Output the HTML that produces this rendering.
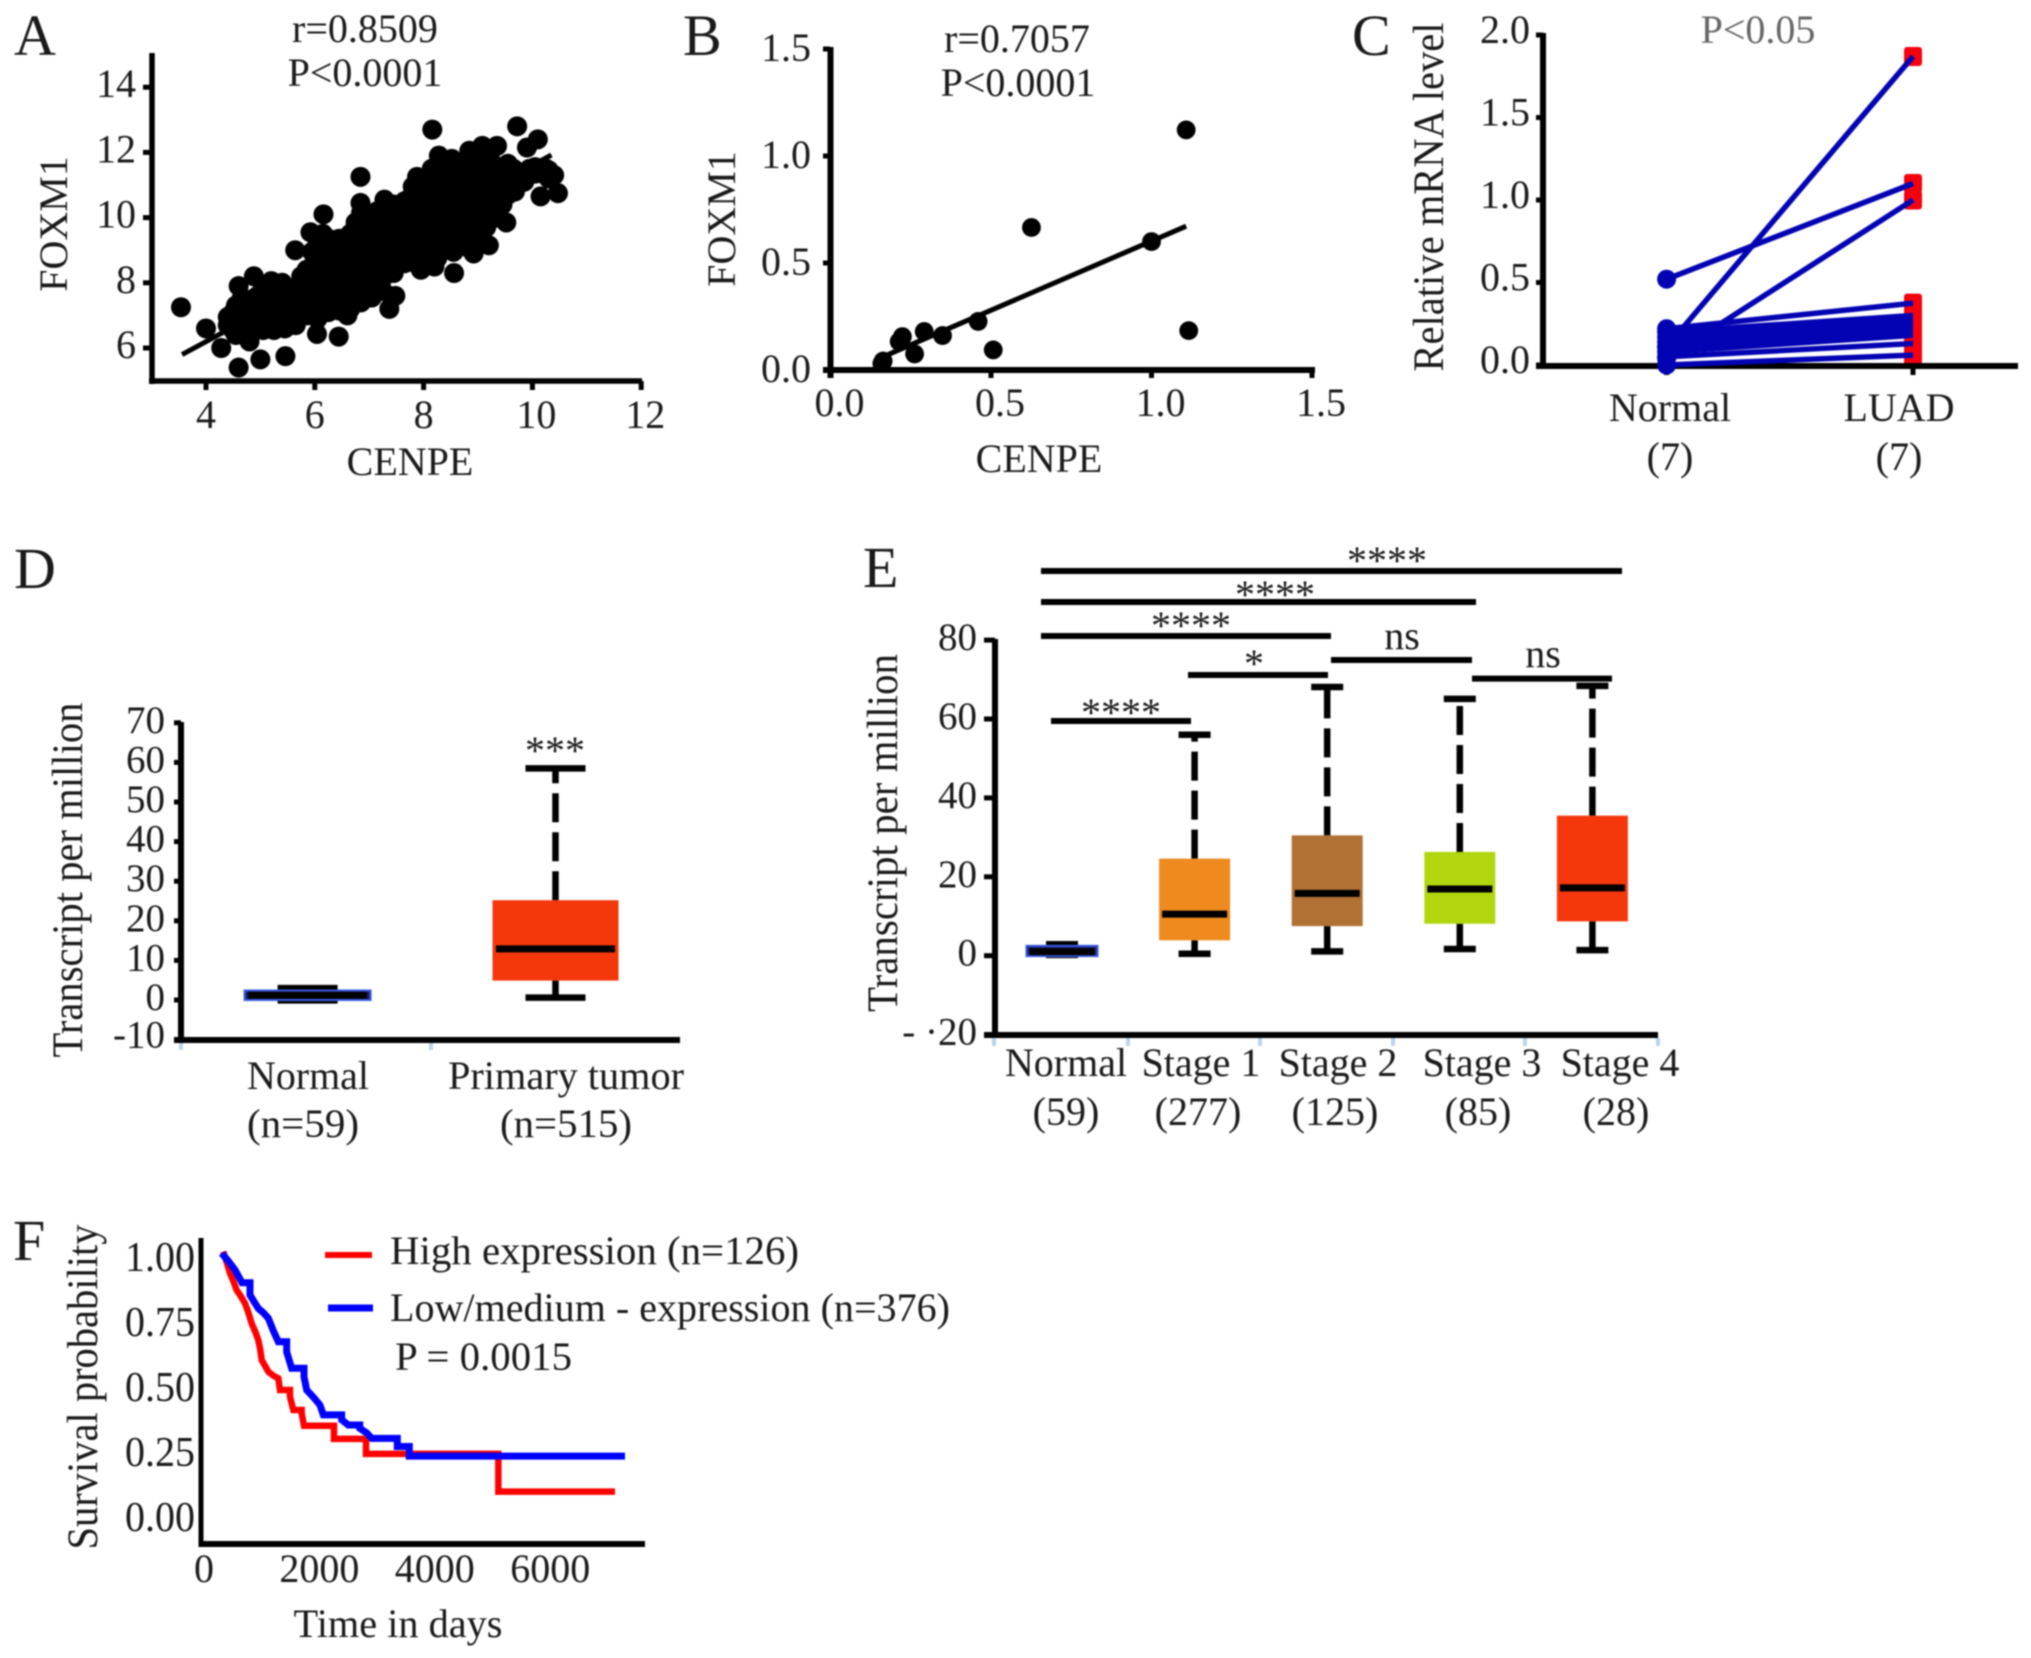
<!DOCTYPE html>
<html lang="en">
<head>
<meta charset="utf-8">
<title>FOXM1 and CENPE expression figure</title>
<style>
html,body{margin:0;padding:0;background:#fff;width:2031px;height:1658px;overflow:hidden}
svg{display:block;filter:blur(.8px)}
text{font-family:"Liberation Serif",serif;fill:#1a1a1a;font-size:40px}
.letter{font-size:58px}
.title{font-size:43px}
</style>
</head>
<body>
<svg id="figure" xmlns="http://www.w3.org/2000/svg" width="2031" height="1658" viewBox="0 0 2031 1658">
<rect width="2031" height="1658" fill="#fff"/>

<g id="panelA">
<text class="letter" x="14" y="55">A</text>
<text x="365" y="42" text-anchor="middle">r=0.8509</text>
<text x="365" y="86" text-anchor="middle">P&lt;0.0001</text>
<text x="410" y="475" text-anchor="middle">CENPE</text>
<text transform="translate(67 224) rotate(-90)" text-anchor="middle">FOXM1</text>
</g>

<g id="panelB">
<text class="letter" x="683" y="55">B</text>
<text x="1017" y="52" text-anchor="middle">r=0.7057</text>
<text x="1018" y="96" text-anchor="middle">P&lt;0.0001</text>
<text x="1039" y="472" text-anchor="middle">CENPE</text>
<text transform="translate(735 219) rotate(-90)" text-anchor="middle">FOXM1</text>
</g>

<g id="panelC">
<text class="letter" x="1352" y="55">C</text>
<text x="1758" y="43" text-anchor="middle" style="fill:#666">P&lt;0.05</text>
<text class="title" transform="translate(1443 197) rotate(-90)" text-anchor="middle" textLength="349" lengthAdjust="spacingAndGlyphs">Relative mRNA level</text>
<text x="1670" y="421" text-anchor="middle">Normal</text>
<text x="1670" y="470" text-anchor="middle">(7)</text>
<text x="1899" y="421" text-anchor="middle">LUAD</text>
<text x="1899" y="470" text-anchor="middle">(7)</text>
</g>

<g id="panelD">
<text class="letter" x="14" y="588">D</text>
<text class="title" transform="translate(82 880) rotate(-90)" text-anchor="middle" textLength="355" lengthAdjust="spacingAndGlyphs">Transcript per million</text>
<text x="555" y="764" text-anchor="middle">***</text>
</g>

<g id="panelE">
<text class="letter" x="863" y="587">E</text>
<text class="title" transform="translate(897 833) rotate(-90)" text-anchor="middle" textLength="358" lengthAdjust="spacingAndGlyphs">Transcript per million</text>
</g>

<g id="panelF">
<text class="letter" x="13" y="1260">F</text>
<text class="title" transform="translate(97 1387) rotate(-90)" text-anchor="middle" textLength="325" lengthAdjust="spacingAndGlyphs">Survival probability</text>
<text x="398" y="1637" text-anchor="middle" textLength="209" lengthAdjust="spacingAndGlyphs">Time in days</text>
<line x1="325" x2="372" y1="1255" y2="1255" stroke="#f00" stroke-width="6"/>
<line x1="328" x2="373" y1="1308" y2="1308" stroke="#00f" stroke-width="7"/>
<text x="390" y="1264" textLength="409" lengthAdjust="spacingAndGlyphs">High expression (n=126)</text>
<text x="390" y="1321" textLength="560" lengthAdjust="spacingAndGlyphs">Low/medium - expression (n=376)</text>
<text x="395" y="1370" textLength="177" lengthAdjust="spacingAndGlyphs">P = 0.0015</text>
</g>
</svg>

<script>
/* ---------- Panel A data ---------- */
const tumorCenpe = [3.54,4.0,4.28,4.6,5.0,5.46,4.8,4.6,4.88,5.2,5.4,6.04,6.44,6.6,7.37,7.48,5.64,5.92,6.16,6.84,6.84,7.28,8.16,9.72,10.1,9.9,9.35,9.08,8.84,8.28,8.52,9.55,10.4,10.47,10.15,9.68,9.52,9.2,8.92,8.56,7.95,8.2,7.88,7.8,
4.4,4.4,4.55,4.55,4.55,4.75,4.75,4.75,4.95,4.95,4.95,5.15,5.15,5.15,5.15,5.35,5.35,5.35,5.35,5.55,5.55,5.55,5.75,5.75,5.75,
5.95,5.95,5.95,5.95,5.95,6.15,6.15,6.15,6.15,6.15,6.15,6.35,6.35,6.35,6.35,6.35,6.55,6.55,6.55,6.55,6.55,
6.75,6.75,6.75,6.75,6.75,6.75,6.95,6.95,6.95,6.95,6.95,6.95,7.15,7.15,7.15,7.15,7.15,7.15,7.35,7.35,7.35,7.35,7.35,7.35,
7.55,7.55,7.55,7.55,7.55,7.75,7.75,7.75,7.75,7.75,7.95,7.95,7.95,7.95,7.95,7.95,8.15,8.15,8.15,8.15,8.15,8.15,8.15,
8.35,8.35,8.35,8.35,8.35,8.35,8.55,8.55,8.55,8.55,8.55,8.55,8.75,8.75,8.75,8.75,8.75,8.75,8.95,8.95,8.95,8.95,8.95,8.95,
9.15,9.15,9.15,9.15,9.15,9.35,9.35,9.35,9.35,9.55,9.55,9.75,9.75,9.95,9.95,10.2,10.25,
4.5,4.5,4.65,4.65,4.65,4.85,4.85,4.85,5.05,5.05,5.05,5.05,5.25,5.25,5.25,5.25,5.25,5.45,5.45,5.45,5.45,5.45,5.65,5.65,5.65,5.65,5.85,5.85,5.85,5.85,
6.05,6.05,6.05,6.05,6.05,6.05,6.25,6.25,6.25,6.25,6.25,6.25,6.45,6.45,6.45,6.45,6.45,6.45,6.65,6.65,6.65,6.65,6.65,6.65,
6.85,6.85,6.85,6.85,6.85,6.85,6.85,7.05,7.05,7.05,7.05,7.05,7.05,7.05,7.25,7.25,7.25,7.25,7.25,7.25,7.25,
7.45,7.45,7.45,7.45,7.45,7.45,7.65,7.65,7.65,7.65,7.65,7.65,7.85,7.85,7.85,7.85,7.85,7.85,
8.05,8.05,8.05,8.05,8.05,8.05,8.05,8.25,8.25,8.25,8.25,8.25,8.25,8.25,8.25,8.45,8.45,8.45,8.45,8.45,8.45,8.45,
8.65,8.65,8.65,8.65,8.65,8.65,8.65,8.85,8.85,8.85,8.85,8.85,8.85,8.85,9.05,9.05,9.05,9.05,9.05,9.05,
9.25,9.25,9.25,9.25,9.25,9.45,9.45,9.45,9.65,9.65,9.65,9.85,9.85,10.05,10.05,10.3,10.3];
const tumorFoxm1 = [7.25,6.6,6.0,5.4,5.65,5.75,6.2,7.9,8.2,8.05,8.0,6.43,6.35,7.0,7.2,7.6,9.0,9.55,10.1,11.25,10.45,10.55,12.7,12.8,12.4,12.15,12.2,12.2,12.05,11.9,11.8,11.65,11.3,10.75,10.65,10.8,9.85,9.15,8.9,8.3,8.4,8.5,11.25,10.95,
6.7,6.95,6.4,6.9,7.3,6.5,6.95,7.35,6.8,7.2,7.6,6.8,7.2,7.55,7.8,6.8,7.15,7.5,7.75,6.9,7.25,7.6,7.3,7.7,8.2,
7.15,7.6,8.05,8.5,8.95,7.3,7.75,8.2,8.65,9.1,9.5,7.35,7.8,8.25,8.7,9.1,7.4,7.85,8.3,8.75,9.25,
7.6,8.05,8.5,8.95,9.4,9.85,7.7,8.15,8.6,9.05,9.5,9.95,7.9,8.35,8.8,9.25,9.7,10.2,8.3,8.7,9.15,9.6,10.05,10.2,
8.6,9.05,9.5,9.95,10.3,8.7,9.15,9.6,10.05,10.6,8.75,9.2,9.65,10.1,10.55,11,8.9,9.35,9.8,10.25,10.7,11.15,11.5,
9.2,9.65,10.1,10.55,11,11.5,8.95,9.4,9.85,10.3,10.75,11.3,9.2,9.65,10.1,10.55,11,11.7,9.3,9.75,10.2,10.65,11.1,11.8,
9.7,10.15,10.6,11.05,11.7,10.2,10.65,11.1,11.35,10.7,11.2,11.2,11.4,11.35,11.5,11.35,11.5,
6.55,7.1,6.65,7.15,7.5,6.7,7.15,7.5,6.55,7.0,7.4,7.85,6.55,7.0,7.35,7.7,8.0,6.6,7.0,7.35,7.65,7.9,6.7,7.1,7.45,7.8,7.0,7.5,7.95,8.4,
6.9,7.4,7.85,8.3,8.75,9.2,7.1,7.55,8.0,8.45,8.9,9.35,7.15,7.6,8.05,8.5,8.95,9.35,7.2,7.65,8.1,8.55,9.0,9.5,
7.4,7.85,8.3,8.75,9.2,9.65,10.15,7.55,7.95,8.4,8.85,9.3,9.75,10.1,7.75,8.15,8.6,9.05,9.5,9.95,10.3,
8.3,8.9,9.35,9.8,10.25,10.4,8.6,8.85,9.3,9.75,10.2,10.5,8.6,9.0,9.4,9.85,10.3,10.8,
8.65,9.05,9.5,9.95,10.4,10.85,11.2,8.75,9.15,9.6,10.05,10.5,10.95,11.4,11.6,9.05,9.45,9.9,10.35,10.8,11.25,11.6,
9.15,9.6,10.05,10.5,10.95,11.4,11.5,9.05,9.45,9.9,10.35,10.8,11.25,11.75,9.5,9.95,10.4,10.85,11.3,11.85,
9.95,10.4,10.85,11.3,11.7,10.4,10.9,11.3,10.85,11.2,11.5,11.1,11.35,11.35,11.55,11.2,11.45];
const fitACenpe = [3.56,10.35];
const fitAFoxm1 = [5.8,11.92];
const ticksAX = [4,6,8,10,12];
const ticksAY = [6,8,10,12,14];

/* ---------- Panel B data ---------- */
const tissueCenpe = [1.108,0.626,1.0,1.116,0.507,0.46,0.349,0.292,0.224,0.214,0.262,0.164,0.16];
const tissueFoxm1 = [1.122,0.666,0.6,0.184,0.094,0.227,0.161,0.18,0.156,0.133,0.075,0.042,0.03];
const fitBCenpe = [0.153,1.108];
const fitBFoxm1 = [0.055,0.672];
const ticksB = ['0.0','0.5','1.0','1.5'];

/* ---------- Panel C data ---------- */
const pairedNormal = [0.11,0.52,0.04,0.22,0.2,0.17,0.14,0.11,0.08,0.05,0.0];
const pairedLuad = [1.87,1.1,1.0,0.375,0.3,0.27,0.24,0.21,0.18,0.13,0.06];
const ticksC = ['0.0','0.5','1.0','1.5','2.0'];

/* ---------- Panel D data ---------- */
const groupsD = ['Normal','Primary tumor'];
const countsD = ['(n=59)','(n=515)'];
const lowD = [-0.1,0.6];
const q1D = [0,4.9];
const medianD = [1.2,12.9];
const q3D = [2.4,25.2];
const highD = [3.0,58.5];
const ticksD = [-10,0,10,20,30,40,50,60,70];

/* ---------- Panel E data ---------- */
const stagesE = ['Normal','Stage 1','Stage 2','Stage 3','Stage 4'];
const countsE = ['(59)','(277)','(125)','(85)','(28)'];
const lowE = [0.2,0.5,1.1,1.7,1.4];
const q1E = [-0.1,3.9,7.5,8.1,8.7];
const medianE = [1,10.55,15.8,16.9,17.2];
const q3E = [2.5,24.6,30.5,26.3,35.5];
const highE = [2.9,56,68.1,65.1,68.4];
const ticksE = [-20,0,20,40,60,80];
const tickLabelsE = ['- ·20','0','20','40','60','80'];

/* ---------- Panel F data ---------- */
const highDays = [335,400,450,510,566,640,710,770,826,890,941,975,1000,1060,1115,1200,1288,1317,1490,1548,1693,1733,2253,2808,5101,7123];
const highSurvival = [0.994,0.95,0.915,0.885,0.853,0.83,0.805,0.77,0.731,0.7,0.67,0.635,0.597,0.575,0.554,0.54,0.53,0.487,0.463,0.414,0.402,0.356,0.308,0.253,0.115,0.115];
const lowDays = [306,420,537,660,797,870,941,1030,1115,1200,1288,1433,1519,1733,1780,1900,2010,2068,2386,2500,2700,2820,2906,3350,3558,7296];
const lowSurvival = [0.988,0.96,0.927,0.88,0.835,0.81,0.786,0.77,0.75,0.705,0.664,0.627,0.567,0.536,0.487,0.46,0.432,0.396,0.378,0.359,0.347,0.33,0.31,0.28,0.245,0.245];
const ticksFX = [0,2000,4000,6000];
const ticksFY = ['0.00','0.25','0.50','0.75','1.00'];

/* ---------- Axis functions ---------- */
const xA = v => 206 + (v - 4) * 54.4;
const yA = v => 348 - (v - 6) * 32.6;
const xB = v => 830.5 + v * 321;
const yB = v => 370 - v * 214;
const catC = i => [1666.6, 1913][i];
const yC = v => 365 - v * 165;
const catD = i => 307.6 + i * 247.9;
const yD = v => 1000 - v * 3.96;
const catE = i => 1062 + i * 132.6;
const yE = v => 955.7 - v * 3.945;
const xF = d => 204 + d * 0.0577;
const yF = s => 1523 - s * 273;
const yFLabel = s => 1531 - s * 260;

const SVGNS = 'http://www.w3.org/2000/svg';
function shape(parent, tag, attrs) {
  const el = document.createElementNS(SVGNS, tag);
  for (const k in attrs) el.setAttribute(k, attrs[k]);
  parent.appendChild(el);
  return el;
}
function label(parent, content, attrs) {
  const el = shape(parent, 'text', attrs);
  el.textContent = content;
  return el;
}
function axisLine(parent, x1, y1, x2, y2, width) {
  return shape(parent, 'line', {x1, y1, x2, y2, stroke: '#000', 'stroke-width': width});
}

const panelA = document.getElementById('panelA');
const panelB = document.getElementById('panelB');
const panelC = document.getElementById('panelC');
const panelD = document.getElementById('panelD');
const panelE = document.getElementById('panelE');
const panelF = document.getElementById('panelF');

/* ---------- Panel A ---------- */
tumorCenpe.forEach((c, i) => {
  const dot = shape(panelA, 'circle', {cx: xA(c), cy: yA(tumorFoxm1[i]), r: 10, fill: '#000'});
  
  
});
const fitA = shape(panelA, 'line', {x1: xA(fitACenpe[0]), y1: yA(fitAFoxm1[0]), x2: xA(fitACenpe[1]), y2: yA(fitAFoxm1[1]), stroke: '#000', 'stroke-width': 5});


const axisAY = axisLine(panelA, 152, 53, 152, 384, 5.5);


const axisAX = axisLine(panelA, 149, 381, 642, 381, 5.5);


ticksAX.forEach(v => {
  const t = axisLine(panelA, xA(v), 381, xA(v), 390, 5);
  
  
  const l = label(panelA, v, {x: xA(v) + (v >= 10 ? 4 : 0), y: 428, 'text-anchor': 'middle'});
  
  
});
ticksAY.forEach(v => {
  const t = axisLine(panelA, 143, yA(v), 152, yA(v), 5);
  
  
  const l = label(panelA, v, {x: 136, y: yA(v) + 10, 'text-anchor': 'end'});
  
  
});

/* ---------- Panel B ---------- */
tissueCenpe.forEach((c, i) => {
  const dot = shape(panelB, 'circle', {cx: xB(c), cy: yB(tissueFoxm1[i]), r: 9.4, fill: '#000'});
  
  
});
const fitB = shape(panelB, 'line', {x1: xB(fitBCenpe[0]), y1: yB(fitBFoxm1[0]), x2: xB(fitBCenpe[1]), y2: yB(fitBFoxm1[1]), stroke: '#000', 'stroke-width': 5});


const axisBY = axisLine(panelB, 830.5, 47, 830.5, 378, 6);


const axisBX = axisLine(panelB, 823, 370, 1315, 370, 6);


ticksB.forEach((s, i) => {
  const v = parseFloat(s);
  if (i > 0) {
    const tx = axisLine(panelB, xB(v), 370, xB(v), 378, 5);
    
    
    const ty = axisLine(panelB, 823, yB(v), 830, yB(v), 5);
    
    
  }
  const lx = label(panelB, s, {x: xB(v) + 9, y: 416, 'text-anchor': 'middle'});
  
  
  const ly = label(panelB, s, {x: 811, y: yB(v) + 12, 'text-anchor': 'end'});
  
  
});

/* ---------- Panel C ---------- */
pairedLuad.forEach(v => {
  const sq = shape(panelC, 'rect', {x: catC(1) - 9, y: yC(v) - 9.5, width: 18, height: 19, rx: 3, fill: '#f4000f'});
  
  
});
const axisCY = axisLine(panelC, 1543, 33, 1543, 368, 6);


const axisCX = axisLine(panelC, 1536, 366, 2018, 366, 6);


[0, 1].forEach(i => {
  const t = axisLine(panelC, catC(i), 366, catC(i), 375, 5);
  
  
});
ticksC.forEach(s => {
  const v = parseFloat(s);
  const t = axisLine(panelC, 1536, yC(v), 1543, yC(v), 5);
  
  
  const l = label(panelC, s, {x: 1530, y: yC(v) + 8, 'text-anchor': 'end'});
  
  
});
pairedNormal.forEach((v, i) => {
  const ln = shape(panelC, 'line', {x1: catC(0), y1: yC(v), x2: catC(1), y2: yC(pairedLuad[i]), stroke: '#0303b3', 'stroke-width': 5.5});
  
  
  const dot = shape(panelC, 'circle', {cx: catC(0), cy: yC(v), r: 9.5, fill: '#0303b3'});
  
  
});

/* ---------- Box plots ---------- */
function drawBox(parent, cx, yScale, low, q1, med, q3, high, fill, edge, boxW, capW, medW) {
  const top = shape(parent, 'line', {x1: cx, x2: cx, y1: yScale(q3), y2: yScale(high), stroke: '#000', 'stroke-width': 6.5, 'stroke-dasharray': '29 10'});
  
  
  const bottom = shape(parent, 'line', {x1: cx, x2: cx, y1: yScale(q1), y2: yScale(low), stroke: '#000', 'stroke-width': 6.5});
  
  
  const capTop = shape(parent, 'line', {x1: cx - capW / 2, x2: cx + capW / 2, y1: yScale(high), y2: yScale(high), stroke: '#000', 'stroke-width': 6.5});
  
  
  const capLow = shape(parent, 'line', {x1: cx - capW / 2, x2: cx + capW / 2, y1: yScale(low), y2: yScale(low), stroke: '#000', 'stroke-width': 6.5});
  
  
  const box = shape(parent, 'rect', {x: cx - boxW / 2, y: yScale(q3), width: boxW, height: yScale(q1) - yScale(q3), fill, stroke: edge, 'stroke-width': edge === 'none' ? 0 : 2});
  
  
  const median = shape(parent, 'line', {x1: cx - medW / 2, x2: cx + medW / 2, y1: yScale(med), y2: yScale(med), stroke: '#000', 'stroke-width': 7});
  
  
}

/* ---------- Panel D ---------- */
const colorsD = ['#1d1d70', '#f4380c'];
const edgesD = ['#3a5ae0', 'none'];
groupsD.forEach((g, i) => {
  drawBox(panelD, catD(i), yD, lowD[i], q1D[i], medianD[i], q3D[i], highD[i], colorsD[i], edgesD[i], 126, 60, 119);
  const l = label(panelD, g, {x: [308, 566][i], y: 1089, 'text-anchor': 'middle', textLength: [122, 236][i], lengthAdjust: 'spacingAndGlyphs'});
  
  
  const n = label(panelD, countsD[i], {x: [303, 566][i], y: 1137, 'text-anchor': 'middle', textLength: [112, 132][i], lengthAdjust: 'spacingAndGlyphs'});
  
  
});
const axisDY = axisLine(panelD, 181, 722, 181, 1043, 6);


const axisDX = axisLine(panelD, 174, 1040, 680, 1040, 6);


[181, 431].forEach(x => {
  const t = shape(panelD, 'line', {x1: x, x2: x, y1: 1043, y2: 1050, stroke: '#bcd4ea', 'stroke-width': 4});
  
  
});
ticksD.forEach(v => {
  const t = axisLine(panelD, 174, yD(v), 181, yD(v), 5);
  
  
  const l = label(panelD, v, {x: 165, y: yD(v) + (v < 0 ? 8 : 10), 'text-anchor': 'end', style: 'font-size:39px'});
  
  
});

/* ---------- Panel E ---------- */
const colorsE = ['#1d1d70', '#ee8a1e', '#b17034', '#b2d60e', '#f4380c'];
const edgesE = ['#3a5ae0', 'none', 'none', 'none', 'none'];
const labelXE = [1066, 1201, 1338, 1482, 1620];
const countXE = [1066, 1198, 1335, 1478, 1616];
stagesE.forEach((g, i) => {
  drawBox(panelE, catE(i), yE, lowE[i], q1E[i], medianE[i], q3E[i], highE[i], colorsE[i], edgesE[i], 71, 32, 65);
  const l = label(panelE, g, {x: labelXE[i], y: 1076, 'text-anchor': 'middle'});
  
  
  const n = label(panelE, countsE[i], {x: countXE[i], y: 1125, 'text-anchor': 'middle'});
  
  
});
const axisEY = axisLine(panelE, 995, 639, 995, 1038, 6);


const axisEX = axisLine(panelE, 984, 1035, 1658, 1035, 6);


[994, 1128, 1260, 1393, 1525, 1658].forEach(x => {
  const t = shape(panelE, 'line', {x1: x, x2: x, y1: 1038, y2: 1046, stroke: '#bcd4ea', 'stroke-width': 4});
  
  
});
ticksE.forEach((v, i) => {
  const t = axisLine(panelE, 984, yE(v), 995, yE(v), 5);
  
  
  const l = label(panelE, tickLabelsE[i], {x: 977, y: yE(v) + 10, 'text-anchor': 'end', style: 'font-size:39px'});
  
  
});
const bracketStart = [1041, 1041, 1041, 1331, 1188, 1472, 1051];
const bracketEnd = [1622, 1476, 1331, 1472, 1328, 1612, 1191];
const bracketY = [571, 602, 636, 660, 675, 678.6, 721];
const bracketText = ['****', '****', '****', 'ns', '*', 'ns', '****'];
const bracketTextX = [1387, 1275, 1191, 1402, 1254, 1543, 1121];
const bracketTextY = [574, 608, 639, 649, 677, 667, 726];
bracketText.forEach((s, i) => {
  const b = shape(panelE, 'line', {x1: bracketStart[i], x2: bracketEnd[i], y1: bracketY[i], y2: bracketY[i], stroke: '#000', 'stroke-width': 6});
  
  
  const l = label(panelE, s, {x: bracketTextX[i], y: bracketTextY[i], 'text-anchor': 'middle'});
  
  
});

/* ---------- Panel F ---------- */
function stepPath(days, surv) {
  let d = 'M' + xF(days[0]) + ' ' + yF(surv[0]);
  for (let i = 1; i < days.length; i++) {
    if (days[i] - days[i - 1] < 135) {
      d += ' L' + xF(days[i]) + ' ' + yF(surv[i]);
    } else {
      d += ' H' + xF(days[i]) + ' V' + yF(surv[i]);
    }
  }
  return d;
}
const curveHigh = shape(panelF, 'path', {d: stepPath(highDays, highSurvival), fill: 'none', stroke: '#f00', 'stroke-width': 6.5});


const curveLow = shape(panelF, 'path', {d: stepPath(lowDays, lowSurvival), fill: 'none', stroke: '#00f', 'stroke-width': 7});


const axisFY = axisLine(panelF, 201, 1238, 201, 1547, 5);


const axisFX = axisLine(panelF, 199, 1544, 645, 1544, 6);


ticksFX.forEach(v => {
  const l = label(panelF, v, {x: xF(v), y: 1582, 'text-anchor': 'middle'});
  
  
});
ticksFY.forEach(s => {
  const l = label(panelF, s, {x: 195, y: yFLabel(parseFloat(s)), 'text-anchor': 'end', textLength: 70, lengthAdjust: 'spacingAndGlyphs', style: 'font-size:42px'});
  
  
});
</script>
</body>
</html>
